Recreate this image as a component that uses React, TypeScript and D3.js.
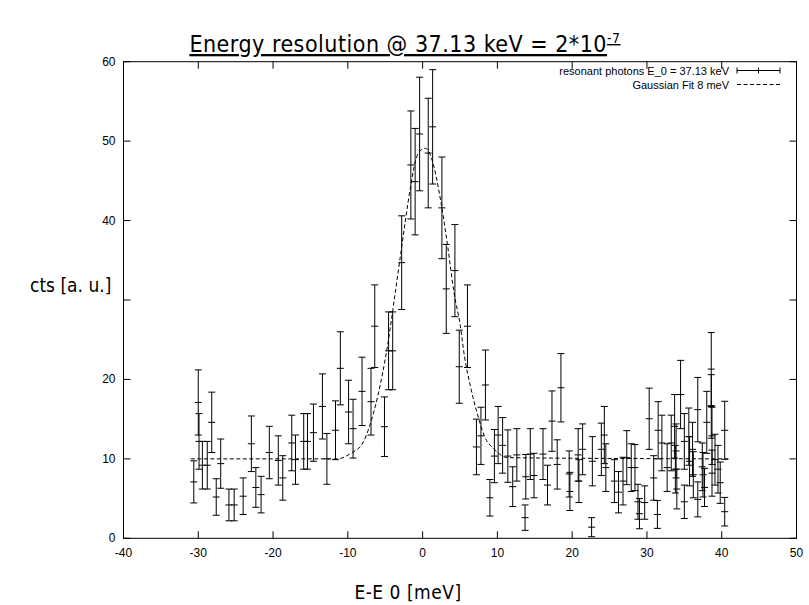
import React, { useEffect, useRef } from 'react';
import * as d3 from 'd3';

// resonant photons: energy offset [meV], counts, error
const energy = [
  -30.6, -30.0, -29.9, -29.45, -28.8, -28.2, -27.6, -27.0, -25.9, -25.2,
  -24.0, -22.9, -22.3, -21.6, -20.5, -19.3, -18.7, -17.5, -17.0, -15.9,
  -15.4, -14.6, -13.4, -12.8, -11.65, -11.0, -9.9, -9.3, -8.1, -6.9,
  -6.4, -5.1, -4.55, -4.0, -2.8, -1.57, -1.0, -0.4, 0.75, 1.34,
  2.58, 3.16, 4.32, 4.9, 6.0, 7.2, 7.8, 8.4, 9.0, 9.6,
  10.1, 10.7, 11.4, 12.05, 12.6, 13.7, 13.8, 14.4, 14.9, 16.1,
  16.7, 17.3, 18.0, 18.5, 19.6, 19.7, 20.8, 20.9, 21.4, 22.6,
  22.7, 23.9, 24.3, 24.5, 25.65, 26.2, 26.8, 27.3, 27.9, 28.4,
  28.8, 29.0, 29.7, 30.3, 30.9, 31.4, 31.5, 32.0, 32.7, 33.25,
  33.7, 33.8, 33.9, 34.0, 34.5, 35.0, 35.0, 35.6, 35.7, 36.1,
  36.2, 36.8, 36.8, 37.4, 37.5, 37.7, 38.0, 38.6, 38.6, 38.7,
  38.7, 39.1, 39.5, 39.8, 40.4, 40.4,
];
const counts = [
  7.1, 17.1, 12.2, 9.2, 9.2, 14.6, 5.2, 9.4, 4.2, 4.2,
  5.3, 11.9, 6.4, 5.5, 10.8, 9.8, 7.6, 12.0, 9.9, 12.2,
  12.2, 13.3, 16.6, 10.0, 13.6, 21.4, 15.9, 13.8, 18.5, 17.2,
  26.7, 14.05, 23.6, 23.6, 34.7, 47.0, 44.9, 50.9, 48.5, 51.8,
  41.6, 31.4, 33.7, 21.6, 26.7, 11.5, 12.9, 19.3, 5.1, 10.35,
  13.0, 11.7, 10.35, 6.5, 10.5, 2.6, 7.75, 10.6, 7.9, 10.6,
  6.7, 14.75, 9.3, 18.95, 8.1, 5.9, 10.5, 7.2, 11.2, 1.4,
  9.7, 11.2, 13.0, 8.9, 7.2, 5.8, 7.2, 10.15, 8.9, 8.9,
  4.6, 3.1, 4.5, 15.05, 7.6, 3.0, 13.6, 12.0, 8.9, 12.0,
  14.1, 8.7, 11.0, 6.2, 18.1, 12.2, 4.6, 12.8, 9.7, 11.2,
  8.0, 16.2, 4.9, 9.0, 8.0, 6.4, 14.6, 21.3, 16.6, 12.9,
  8.2, 9.9, 8.7, 7.0, 13.6, 3.35,
];
const errors = [
  2.65, 4.1, 3.5, 3.0, 3.0, 3.8, 2.3, 3.1, 2.0, 2.0,
  2.3, 3.5, 2.5, 2.3, 3.3, 3.1, 2.8, 3.5, 3.1, 3.5,
  3.5, 3.6, 4.1, 3.2, 3.7, 4.6, 4.0, 3.7, 4.3, 4.2,
  5.2, 3.75, 4.9, 4.9, 5.9, 6.8, 6.7, 7.15, 6.9, 7.2,
  6.4, 5.6, 5.8, 4.6, 5.2, 3.5, 3.6, 4.4, 2.3, 3.35,
  3.6, 3.5, 3.3, 2.5, 3.3, 1.6, 2.8, 3.2, 2.8, 3.2,
  2.5, 3.8, 3.1, 4.3, 2.9, 2.4, 3.3, 2.7, 3.2, 1.2,
  3.1, 3.3, 3.6, 3.0, 2.7, 2.6, 3.0, 3.4, 3.0, 2.9,
  2.2, 1.9, 2.1, 3.85, 2.8, 1.75, 3.6, 3.5, 3.0, 3.5,
  4.0, 3.0, 3.4, 2.5, 4.3, 3.5, 2.1, 3.6, 3.1, 3.4,
  2.9, 4.05, 2.2, 3.0, 2.8, 2.4, 3.9, 4.6, 4.0, 3.6,
  2.9, 3.2, 3.0, 2.6, 3.65, 1.8,
];

// gaussian fit curve
const fitEnergy = [-31, -11.4, -9.6, -8.0, -7.1, -6.0, -4.7, -3.6, -2.9, -1.6, -0.9, -0.2, 0.35, 1.1, 1.8, 2.45, 3.35, 4.2, 5.0, 5.6, 6.5, 7.4, 8.25, 9.6, 11.4, 41];
const fitCounts = [10, 10, 10.7, 12.0, 14.1, 17.9, 24.2, 31.3, 36, 44.3, 47.7, 48.9, 49.1, 48.1, 45.6, 42.3, 36.8, 30.9, 27.0, 22.9, 18.7, 15.4, 12.9, 11.2, 10.15, 10];

const xTicks = [-40, -30, -20, -10, 0, 10, 20, 30, 40, 50];
const yTicks = [0, 10, 20, 30, 40, 50, 60];
// the "30" label sits under the axis title in the original, so it is not shown
const yTickLabels = [0, 10, 20, 40, 50, 60];

export default function App() {
  const ref = useRef<SVGSVGElement>(null);

  useEffect(() => {
    const svg = d3.select(ref.current);
    svg.selectAll('*').remove();

    const margin = { top: 61.7, right: 12.5, bottom: 66.7, left: 123.5 };
    const w = 809;
    const h = 605;
    const tick = 7;
    const cap = 3.5;
    const tickFont = "'Liberation Sans Narrow', 'Liberation Sans', Arial, sans-serif";
    const labelFont = "'Comic Sans MS', 'DejaVu Sans Condensed', 'DejaVu Sans', sans-serif";

    const x = d3.scaleLinear().domain([-40, 50]).range([margin.left, w - margin.right]);
    const y = d3.scaleLinear().domain([0, 60]).range([h - margin.bottom, margin.top]);

    svg.append('rect').attr('width', w).attr('height', h).attr('fill', '#fff');

    // title
    const title = svg.append('text')
      .attr('x', 405).attr('y', 52)
      .attr('text-anchor', 'middle')
      .attr('font-family', labelFont)
      .attr('font-size', 23)
      .attr('letter-spacing', 0.5)
      .attr('text-decoration', 'underline')
      .text('Energy resolution @ 37.13 keV = 2*10');
    title.append('tspan')
      .attr('dy', -9).attr('font-size', 14)
      .text('-7');

    // frame + ticks
    const [x0, x1] = x.range();
    const [y0, y1] = y.range();
    svg.append('rect')
      .attr('x', x0).attr('y', y1)
      .attr('width', x1 - x0).attr('height', y0 - y1)
      .attr('fill', 'none').attr('stroke', 'black').attr('stroke-width', 1);

    const axes = svg.append('g').attr('stroke', 'black').attr('stroke-width', 1);
    xTicks.forEach(t => {
      axes.append('line').attr('x1', x(t)).attr('x2', x(t)).attr('y1', y0).attr('y2', y0 - tick);
      axes.append('line').attr('x1', x(t)).attr('x2', x(t)).attr('y1', y1).attr('y2', y1 + tick);
    });
    yTicks.forEach(t => {
      axes.append('line').attr('x1', x0).attr('x2', x0 + tick).attr('y1', y(t)).attr('y2', y(t));
      axes.append('line').attr('x1', x1).attr('x2', x1 - tick).attr('y1', y(t)).attr('y2', y(t));
    });

    svg.append('g').selectAll('text').data(xTicks).join('text')
      .attr('x', d => x(d)).attr('y', y0 + 19)
      .attr('text-anchor', 'middle')
      .attr('font-family', tickFont).attr('font-size', 12)
      .text(d => d);
    svg.append('g').selectAll('text').data(yTickLabels).join('text')
      .attr('x', x0 - 8).attr('y', d => y(d) + 4)
      .attr('text-anchor', 'end')
      .attr('font-family', tickFont).attr('font-size', 12)
      .text(d => d);

    // axis labels
    svg.append('text')
      .attr('x', 30).attr('y', 292)
      .attr('font-family', labelFont).attr('font-size', 19)
      .text('cts [a. u.]');
    svg.append('text')
      .attr('x', 408).attr('y', 599)
      .attr('text-anchor', 'middle')
      .attr('font-family', labelFont).attr('font-size', 19)
      .attr('letter-spacing', 0.5)
      .text('E-E 0 [meV]');

    // fit curve
    const fit = fitEnergy.map((e, i) => [e, fitCounts[i]] as [number, number]);
    const line = d3.line<[number, number]>()
      .x(d => x(d[0])).y(d => y(d[1]))
      .curve(d3.curveMonotoneX);
    svg.append('path')
      .attr('d', line(fit))
      .attr('fill', 'none').attr('stroke', 'black')
      .attr('stroke-width', 1).attr('stroke-dasharray', '4,2.5');

    // error bars
    const bars = svg.append('g').attr('stroke', 'black').attr('stroke-width', 1);
    energy.forEach((e, i) => {
      const px = x(e);
      const lo = y(counts[i] - errors[i]);
      const hi = y(counts[i] + errors[i]);
      const c = y(counts[i]);
      bars.append('line').attr('x1', px).attr('x2', px).attr('y1', lo).attr('y2', hi);
      bars.append('line').attr('x1', px - cap).attr('x2', px + cap).attr('y1', lo).attr('y2', lo);
      bars.append('line').attr('x1', px - cap).attr('x2', px + cap).attr('y1', hi).attr('y2', hi);
      bars.append('line').attr('x1', px - cap).attr('x2', px + cap).attr('y1', c).attr('y2', c);
    });

    // legend
    const legend = svg.append('g');
    const lx0 = 737;
    const lx1 = 780;
    legend.append('text')
      .attr('x', 729).attr('y', 74.5).attr('text-anchor', 'end')
      .attr('font-family', tickFont).attr('font-size', 11)
      .text('resonant photons E_0 = 37.13 keV');
    legend.append('text')
      .attr('x', 729).attr('y', 88.5).attr('text-anchor', 'end')
      .attr('font-family', tickFont).attr('font-size', 11)
      .text('Gaussian Fit 8 meV');
    const ly = 70.5;
    const lg = legend.append('g').attr('stroke', 'black').attr('stroke-width', 1);
    lg.append('line').attr('x1', lx0).attr('x2', lx1).attr('y1', ly).attr('y2', ly);
    lg.append('line').attr('x1', lx0).attr('x2', lx0).attr('y1', ly - 3).attr('y2', ly + 3);
    lg.append('line').attr('x1', lx1).attr('x2', lx1).attr('y1', ly - 3).attr('y2', ly + 3);
    lg.append('line').attr('x1', (lx0 + lx1) / 2).attr('x2', (lx0 + lx1) / 2).attr('y1', ly - 3).attr('y2', ly + 3);
    legend.append('line')
      .attr('x1', lx0).attr('x2', lx1).attr('y1', 84.5).attr('y2', 84.5)
      .attr('stroke', 'black').attr('stroke-dasharray', '4,2.5');
  }, []);

  return (
    <svg ref={ref} width={809} height={605} style={{ position: 'absolute', left: 0, top: 0 }} />
  );
}
